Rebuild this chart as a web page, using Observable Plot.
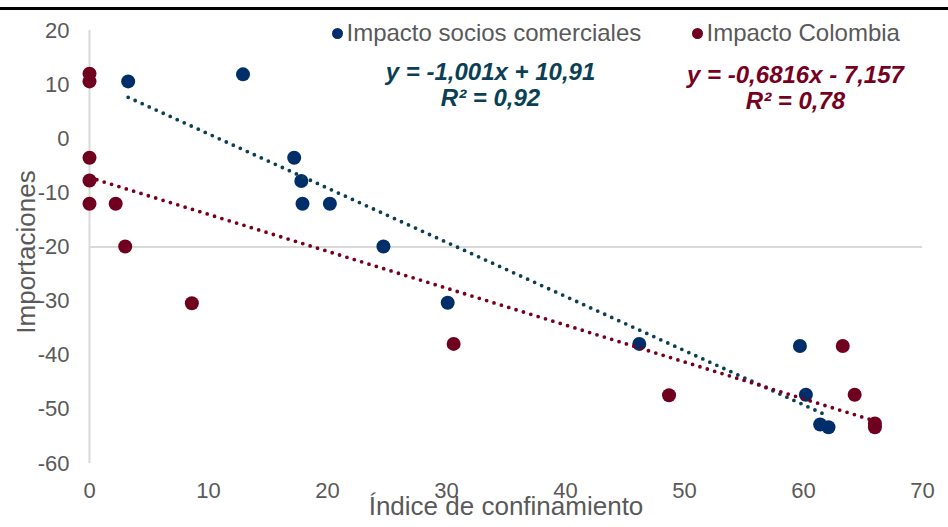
<!DOCTYPE html>
<html><head><meta charset="utf-8">
<script src="https://cdn.jsdelivr.net/npm/d3@7"></script>
<script src="https://cdn.jsdelivr.net/npm/@observablehq/plot@0.6"></script>
<style>
html,body{margin:0;padding:0;background:#fff;}
#wrap{position:relative;width:948px;height:527px;overflow:hidden;font-family:"Liberation Sans",Arial,sans-serif;}
#topline{position:absolute;left:0;top:7px;width:948px;height:3px;background:#000;}
#chart{position:absolute;left:0;top:0;}
</style></head><body><div id="wrap"><div id="chart"></div><div id="topline"></div></div>
<script>
// Series 1: Impacto socios comerciales
const sociosX = [3.25, 12.9, 17.2, 17.8, 17.9, 20.2, 24.7, 30.1, 46.2, 59.7, 60.2, 61.4, 62.1];
const sociosY = [10.6, 11.9, -3.5, -7.8, -12.0, -12.0, -19.9, -30.3, -37.9, -38.3, -47.3, -52.8, -53.3];
// Series 2: Impacto Colombia
const colombiaX = [0, 0, 0, 0, 0, 2.2, 3.0, 8.6, 30.6, 48.7, 63.3, 64.3, 66.0, 66.0];
const colombiaY = [12.0, 10.6, -3.5, -7.7, -12.0, -12.0, -19.9, -30.4, -37.9, -47.4, -38.3, -47.3, -52.6, -53.3];

const seriesNames = ["Impacto socios comerciales", "Impacto Colombia"];
const seriesColors = ["#002E6B", "#6F0020"];
const trendColors = ["#0B3F55", "#78001F"];
const slopes = [-1.001, -0.6816];
const intercepts = [10.91, -7.157];
const equationLabels = ["y = -1,001x + 10,91", "y = -0,6816x - 7,157"];
const r2Labels = ["R² = 0,92", "R² = 0,78"];
const xTicks = [0, 10, 20, 30, 40, 50, 60, 70];
const yTicks = [20, 10, 0, -10, -20, -30, -40, -50, -60];
const xTitle = "Índice de confinamiento";
const yTitle = "Importaciones";

const seriesX = [sociosX, colombiaX];
const seriesY = [sociosY, colombiaY];
const points = [];
seriesX.forEach((xs, s) => xs.forEach((x, i) => points.push({x, y: seriesY[s][i], s})));
// trend lines across each series' x range, from the published equations
const trend = [];
seriesX.forEach((xs, s) => {
  const [a, b] = d3.extent(xs);
  for (const x of [a, b]) trend.push({x, y: slopes[s] * x + intercepts[s], s});
});

const grey = "#595959";
const font = "'Liberation Sans', Arial, sans-serif";

// layout offsets (pixels from the frame's top-left corner)
const legendDx = [248, 608];
const eqDx = [401, 706];
const eqDy = [42, 45];

const legendMarks = seriesNames.flatMap((name, s) => [
  Plot.dot([name], {frameAnchor: "top-left", dx: legendDx[s], dy: 3, r: 5.5, fill: seriesColors[s]}),
  Plot.text([name], {frameAnchor: "top-left", dx: legendDx[s] + 9, dy: 3, text: d => d, textAnchor: "start", lineAnchor: "middle", fontSize: 24, fill: grey})
]);
const eqMarks = equationLabels.flatMap((eq, s) => [
  Plot.text([eq], {frameAnchor: "top-left", dx: eqDx[s], dy: eqDy[s], text: d => d, textAnchor: "middle", lineAnchor: "middle", fontSize: 24, fontWeight: "bold", fontStyle: "italic", fill: trendColors[s]}),
  Plot.text([r2Labels[s]], {frameAnchor: "top-left", dx: eqDx[s], dy: eqDy[s] + 26, text: d => d, textAnchor: "middle", lineAnchor: "middle", fontSize: 24, fontWeight: "bold", fontStyle: "italic", fill: trendColors[s]})
]);

const plot = Plot.plot({
  width: 948, height: 527,
  marginLeft: 89, marginRight: 26, marginTop: 30, marginBottom: 64,
  x: {domain: [0, 70]},
  y: {domain: [-60, 20]},
  style: {fontFamily: font, color: grey, background: "transparent", overflow: "visible"},
  marks: [
    Plot.ruleY([-20], {stroke: "#d9d9d9", strokeWidth: 2}),
    Plot.ruleX([0], {stroke: "#d9d9d9", strokeWidth: 2}),
    Plot.axisY(yTicks, {tickSize: 0, tickPadding: 20, fontSize: 22, fill: grey, label: null, tickFormat: d => String(d)}),
    Plot.axisX(xTicks, {tickSize: 0, tickPadding: 19, fontSize: 22, fill: grey, label: null, tickFormat: d => String(d)}),
    Plot.dot(points, {x: "x", y: "y", r: 7, fill: d => seriesColors[d.s], stroke: "none"}),
    Plot.line(trend, {x: "x", y: "y", z: "s", stroke: d => trendColors[d.s], strokeWidth: 3.8, strokeDasharray: "0 7.7", strokeLinecap: "round"}),
    // axis titles
    Plot.text([yTitle], {frameAnchor: "left", dx: -63, dy: 5, rotate: -90, text: d => d, textAnchor: "middle", lineAnchor: "middle", fontSize: 26, fill: grey}),
    Plot.text([xTitle], {frameAnchor: "bottom", dy: 51, text: d => d, textAnchor: "middle", fontSize: 26, fill: grey}),
    ...legendMarks,
    ...eqMarks
  ]
});
document.getElementById("chart").appendChild(plot);
</script></body></html>
